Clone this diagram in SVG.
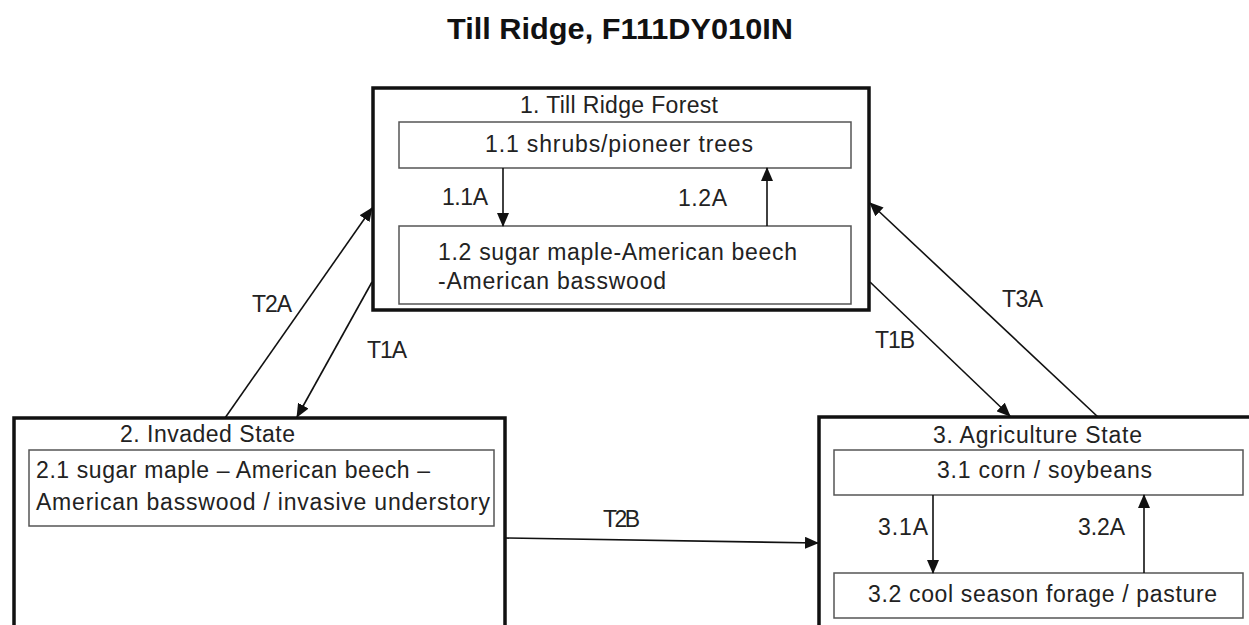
<svg xmlns="http://www.w3.org/2000/svg" width="1249" height="625" viewBox="0 0 1249 625">
  <style>
    text { font-family: "Liberation Sans", Arial, sans-serif; font-size: 23px; fill: #222; }
    .title { font-weight: bold; font-size: 30px; fill: #111; }
    .outer { fill: none; stroke: #111; stroke-width: 3.5; }
    .inner { fill: none; stroke: #555; stroke-width: 1.5; }
    .conn { fill: none; stroke: #111; stroke-width: 1.6; marker-end: url(#arrow); }
  </style>
  <defs>
    <marker id="arrow" markerUnits="userSpaceOnUse" markerWidth="14" markerHeight="12" viewBox="0 0 14 12" refX="13" refY="6" orient="auto">
      <path d="M0,0 L14,6 L0,12 Z" fill="#111"/>
    </marker>
  </defs>
  <rect width="1249" height="625" fill="#fff"/>
  <text class="title" x="620" y="39" text-anchor="middle" textLength="346" lengthAdjust="spacingAndGlyphs">Till Ridge, F111DY010IN</text>

  <g id="state1">
    <rect class="outer" x="373" y="88" width="496" height="222"/>
    <text x="520" y="113" textLength="198">1. Till Ridge Forest</text>
    <g id="comm1_1">
      <rect class="inner" x="399" y="122" width="452" height="46"/>
      <text x="485" y="152" textLength="268">1.1 shrubs/pioneer trees</text>
    </g>
    <g id="comm1_2">
      <rect class="inner" x="399" y="226" width="452" height="78"/>
      <text x="438" y="260" textLength="359">1.2 sugar maple-American beech</text>
      <text x="438" y="289" textLength="228">-American basswood</text>
    </g>
  </g>

  <g id="state2">
    <rect class="outer" x="14" y="418" width="491" height="230"/>
    <text x="120" y="442" textLength="175">2. Invaded State</text>
    <g id="comm2_1">
      <rect class="inner" x="29" y="450" width="465" height="76"/>
      <text x="36" y="478" textLength="394">2.1 sugar maple – American beech –</text>
      <text x="36" y="510" textLength="454">American basswood / invasive understory</text>
    </g>
  </g>

  <g id="state3">
    <rect class="outer" x="819" y="417" width="460" height="230"/>
    <text x="933" y="443" textLength="209">3. Agriculture State</text>
    <g id="comm3_1">
      <rect class="inner" x="834" y="450" width="409" height="45"/>
      <text x="937" y="478" textLength="215">3.1 corn / soybeans</text>
    </g>
    <g id="comm3_2">
      <rect class="inner" x="834" y="573" width="409" height="45"/>
      <text x="868" y="602" textLength="349">3.2 cool season forage / pasture</text>
    </g>
  </g>

  <g id="connectors">
    <line class="conn" x1="503" y1="168" x2="503" y2="226"/>
    <line class="conn" x1="767" y1="226" x2="767" y2="168"/>
    <line class="conn" x1="933" y1="495" x2="933" y2="573"/>
    <line class="conn" x1="1144" y1="573" x2="1144" y2="495"/>
    <line class="conn" x1="225" y1="418" x2="372" y2="208"/>
    <line class="conn" x1="372" y1="282" x2="297" y2="417"/>
    <line class="conn" x1="1098" y1="417" x2="870" y2="203"/>
    <line class="conn" x1="870" y1="282" x2="1010" y2="416"/>
    <line class="conn" x1="505" y1="538" x2="818" y2="543"/>
    <text x="442" y="205" textLength="46">1.1A</text>
    <text x="678" y="206" textLength="49">1.2A</text>
    <text x="878" y="535" textLength="50">3.1A</text>
    <text x="1078" y="535" textLength="47">3.2A</text>
    <text x="252" y="312" textLength="40">T2A</text>
    <text x="367" y="358" textLength="40">T1A</text>
    <text x="1002" y="307" textLength="41">T3A</text>
    <text x="875" y="348" textLength="40">T1B</text>
    <text x="603" y="527" textLength="37">T2B</text>
  </g>
</svg>
